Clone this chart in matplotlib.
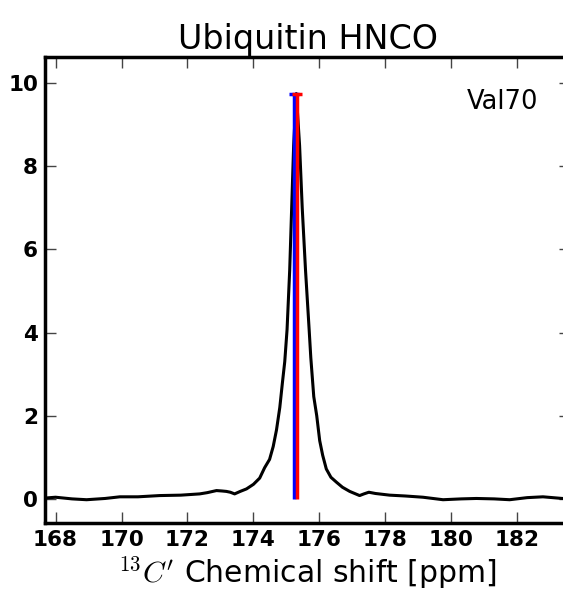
import matplotlib
matplotlib.use('Agg')
import matplotlib.pyplot as plt
import numpy as np

# spectrum trace (ppm, intensity)
shift_ppm = [167.68, 168.0, 168.5, 168.94, 169.5, 169.95, 170.5, 171.16, 171.8,
             172.37, 172.6, 172.88, 173.05, 173.18, 173.3, 173.43, 173.6, 173.79,
             174.0, 174.19, 174.34, 174.49, 174.6, 174.7, 174.8, 174.88, 174.95,
             175.02, 175.1, 175.16, 175.22, 175.3, 175.4, 175.48, 175.58, 175.69,
             175.74, 175.83, 175.92, 176.01, 176.1, 176.21, 176.35, 176.52, 176.7,
             176.92, 177.1, 177.22, 177.35, 177.5, 177.7, 178.13, 178.6, 179.14,
             179.75, 180.3, 180.76, 181.3, 181.77, 182.3, 182.78, 183.37, 183.6]
intensity = [0.02, 0.04, 0.0, -0.02, 0.01, 0.05, 0.05, 0.08, 0.09,
             0.12, 0.15, 0.20, 0.19, 0.18, 0.16, 0.12, 0.18, 0.24,
             0.35, 0.50, 0.75, 0.95, 1.26, 1.66, 2.2, 2.8, 3.3,
             4.07, 5.5, 7.0, 8.5, 9.75, 8.5, 7.0, 5.5, 4.07,
             3.4, 2.46, 2.0, 1.40, 1.05, 0.72, 0.52, 0.40, 0.28,
             0.18, 0.12, 0.08, 0.12, 0.16, 0.13, 0.09, 0.07, 0.04,
             -0.02, 0.0, 0.01, 0.0, -0.02, 0.03, 0.05, 0.01, 0.02]

# predicted peak positions (blue / red sticks)
stick_ppm = [175.22, 175.31]
stick_height = [9.73, 9.73]
stick_colors = ['blue', 'red']

title = 'Ubiquitin HNCO'
residue = 'Val70'
xticks = [168, 170, 172, 174, 176, 178, 180, 182]
yticks = [0, 2, 4, 6, 8, 10]

plt.rcParams['mathtext.fontset'] = 'cm'

fig = plt.figure(figsize=(5.63, 5.97), dpi=100)
# axes run off the right side of the figure, like the cropped original
ax = fig.add_axes([45/563, 1 - 523/597, 525/563, (523 - 57.4)/597])

ax.plot(shift_ppm, intensity, color='black', lw=2.2, zorder=2)
for x, h, c in zip(stick_ppm, stick_height, stick_colors):
    ax.vlines(x, 0, h, color=c, lw=2.5, zorder=3)
    ax.plot([x], [h], marker='_', ms=7.5, mew=2.5, color=c, zorder=3)

ax.set_xlim(167.68, 183.6)
ax.set_ylim(-0.58, 10.62)
ax.set_xticks(xticks)
ax.set_yticks(yticks)
ax.tick_params(direction='in', length=8, width=1, color='#444444',
               top=True, right=True, labelsize=15.5, pad=5)
for lbl in ax.get_xticklabels() + ax.get_yticklabels():
    lbl.set_fontweight('bold')
for sp in ax.spines.values():
    sp.set_linewidth(2.5)

ax.set_title(title, fontsize=24, pad=6)
ax.set_xlabel("$^{13}C'$ Chemical shift [ppm]", fontsize=21.5, labelpad=3)
ax.text(181.56, 9.55, residue, fontsize=18.5, ha='center', va='center')

fig.savefig('out.png', dpi=100)
